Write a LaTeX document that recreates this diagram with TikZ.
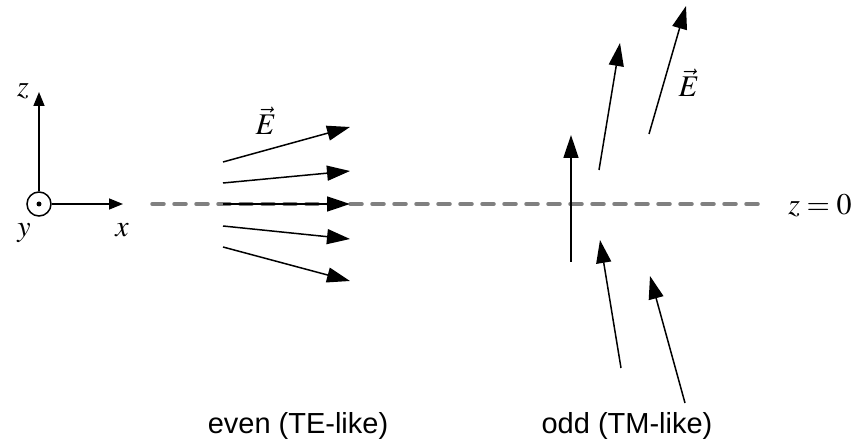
\documentclass[tikz,border=0pt]{standalone}
\usepackage{mathptmx}
\usepackage{fontspec}
\setmainfont{Liberation Serif}
\setsansfont{Liberation Sans}
\usetikzlibrary{arrows.meta}
\tikzset{
  ax/.style={line width=1.5pt, -{Triangle[length=14pt,width=11pt]}},
  field/.style={line width=1.5pt, -{Triangle[length=23pt,width=15pt]}},
  midline/.style={line width=3.5pt, gray, line cap=round, dash pattern=on 12pt off 10pt},
  mlabel/.style={inner sep=0pt, font=\fontsize{30}{36}\selectfont},
  caption/.style={inner sep=0pt, font=\fontsize{29}{34}\selectfont\sffamily},
}
\begin{document}
\begin{tikzpicture}[x=1pt, y=-1pt]
  \useasboundingbox (0,0) rectangle (857,443);
  % 1. 中心虚线 z=0
  \coordinate (d0) at (152,204);
  \coordinate (d1) at (762,204);
  \draw[midline] (d0) -- (d1);
  \node[mlabel, anchor=base] (zzero) at (820,215) {$z=0$};

  % 2. 坐标系 (y 轴指向纸外)
  \node[draw, circle, line width=1.5pt, minimum size=24pt, inner sep=0pt] (orig) at (39,204) {};
  \fill (orig.center) circle (2.5pt);
  \coordinate (ztip) at (39,92);
  \coordinate (xtip) at (123,204);
  \draw[ax] (orig.north) -- (ztip);
  \draw[ax] (orig.east) -- (xtip);
  \node[mlabel] (zlab) at (23,91) {$z$};
  \node[mlabel] (ylab) at (24,233) {$y$};
  \node[mlabel] (xlab) at (122,230) {$x$};

  % 3. 偶模: 电场对称发散
  \foreach \i/\a/\b in {1/-42/-77, 2/-21/-33, 3/0/0, 4/22/35, 5/43/77} {
    \coordinate (es\i) at (223,204+\a);
    \coordinate (et\i) at (350,204+\b);
    \draw[field] (es\i) -- (et\i);
  }
  \node[mlabel, anchor=base] (elab1) at (266,135) {$\vec{E}$};

  % 4. 奇模: 电场向上
  \coordinate (os1) at (571,262); \coordinate (ot1) at (571,135);
  \coordinate (os2) at (599,170); \coordinate (ot2) at (620,43);
  \coordinate (os3) at (649,134); \coordinate (ot3) at (686,6);
  \coordinate (os4) at (621,368); \coordinate (ot4) at (600,240);
  \coordinate (os5) at (685,403); \coordinate (ot5) at (650,276);
  \foreach \i in {1,...,5} \draw[field] (os\i) -- (ot\i);
  \node[mlabel, anchor=base] (elab2) at (689,97) {$\vec{E}$};

  % 5. 标题
  \node[caption, anchor=base] (even) at (298,434) {even (TE-like)};
  \node[caption, anchor=base] (odd) at (627,434) {odd (TM-like)};
\end{tikzpicture}
\end{document}
